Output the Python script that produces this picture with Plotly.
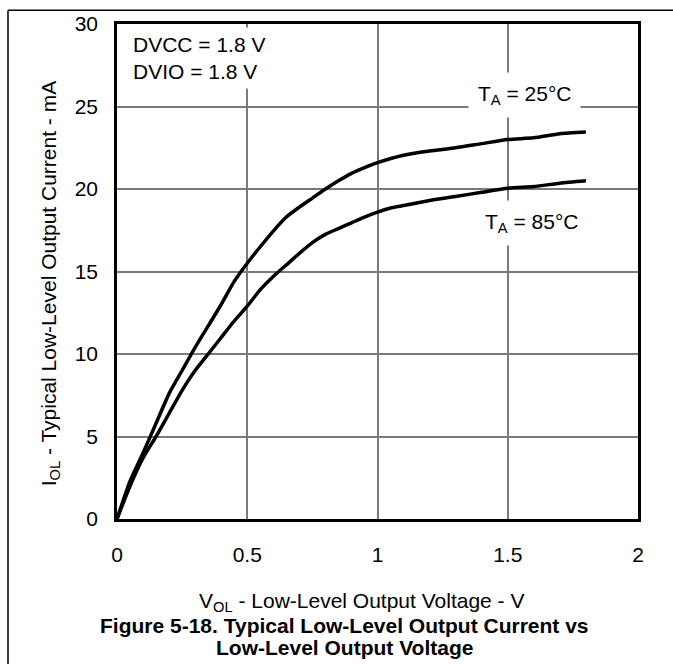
import plotly.graph_objects as go

# Data
v_25 = [0, 0.05, 0.10, 0.15, 0.20, 0.25, 0.30, 0.35, 0.40, 0.45, 0.50, 0.55, 0.60, 0.65,
        0.70, 0.75, 0.80, 0.85, 0.90, 0.95, 1.00, 1.10, 1.20, 1.30, 1.40, 1.50, 1.60, 1.70, 1.80]
i_25 = [0, 2.3, 4.0, 5.8, 7.6, 9.0, 10.4, 11.7, 13.0, 14.4, 15.5, 16.5, 17.45, 18.3,
        18.9, 19.45, 20.0, 20.5, 20.95, 21.3, 21.6, 22.05, 22.3, 22.5, 22.75, 23.0, 23.1, 23.35, 23.45]

v_85 = [0, 0.05, 0.10, 0.15, 0.20, 0.25, 0.30, 0.35, 0.40, 0.45, 0.50, 0.55, 0.60, 0.65,
        0.70, 0.75, 0.80, 0.85, 0.90, 0.95, 1.00, 1.05, 1.10, 1.20, 1.30, 1.40, 1.50, 1.60, 1.70, 1.80]
i_85 = [0, 2.0, 3.7, 5.0, 6.4, 7.8, 9.0, 10.0, 11.0, 12.0, 12.9, 13.9, 14.7, 15.4,
        16.1, 16.75, 17.25, 17.6, 17.95, 18.3, 18.6, 18.85, 19.0, 19.3, 19.55, 19.8, 20.05, 20.15, 20.35, 20.5]

x_ticks = [0, 0.5, 1, 1.5, 2]
x_tick_labels = ["0", "0.5", "1", "1.5", "2"]
y_ticks = [0, 5, 10, 15, 20, 25, 30]
y_tick_labels = ["0", "5", "10", "15", "20", "25", "30"]

FONT = "Liberation Sans, Arial, sans-serif"
FS = 21

fig = go.Figure()
fig.add_trace(go.Scatter(x=v_25, y=i_25, mode="lines",
                         line=dict(color="black", width=3.5, shape="spline", smoothing=0.6),
                         showlegend=False))
fig.add_trace(go.Scatter(x=v_85, y=i_85, mode="lines",
                         line=dict(color="black", width=3.5, shape="spline", smoothing=0.6),
                         showlegend=False))

W, H = 673, 666
L, R, T, B = 117, 35, 17, 147
pw, ph = W - L - R, H - T - B


def px_x(p):
    return (p - L) / pw


def px_y(p):
    return (H - B - p) / ph


fig.update_layout(
    width=W, height=H,
    margin=dict(l=L, r=R, t=T, b=B),
    paper_bgcolor="white", plot_bgcolor="white",
    font=dict(family=FONT, size=FS, color="black"),
    xaxis=dict(range=[0, 2], tickvals=x_ticks, ticktext=x_tick_labels,
               showgrid=True, gridcolor="#7a7a7a", gridwidth=1.5,
               zeroline=False, showline=True, linecolor="black", linewidth=2.5, mirror=True,
               ticks="", ticklabelstandoff=15, tickfont=dict(size=FS)),
    yaxis=dict(range=[0, 30], tickvals=y_ticks, ticktext=y_tick_labels,
               showgrid=True, gridcolor="#7a7a7a", gridwidth=1.5,
               zeroline=False, showline=True, linecolor="black", linewidth=2.5, mirror=True,
               ticks="", ticklabelstandoff=12, tickfont=dict(size=FS)),
)

# Page frame lines (top and left)
fig.add_shape(type="line", xref="paper", yref="paper",
              x0=px_x(8), x1=px_x(W), y0=px_y(3), y1=px_y(3),
              line=dict(color="black", width=1.5))
fig.add_shape(type="line", xref="paper", yref="paper",
              x0=px_x(8), x1=px_x(8), y0=px_y(3), y1=px_y(H),
              line=dict(color="black", width=1.5))

# In-plot annotations
fig.add_annotation(text="DVCC = 1.8 V<br>DVIO = 1.8 V", xref="paper", yref="paper",
                   x=px_x(127), y=px_y(20), xanchor="left", yanchor="top", align="left",
                   showarrow=False, bgcolor="white", borderpad=5,
                   font=dict(family=FONT, size=FS))
fig.add_annotation(text="T<sub>A</sub> = 25°C", x=1.565, y=25.7, xanchor="center", yanchor="middle",
                   showarrow=False, bgcolor="white", borderpad=9,
                   font=dict(family=FONT, size=FS))
fig.add_annotation(text="T<sub>A</sub> = 85°C", x=1.593, y=17.95, xanchor="center", yanchor="middle",
                   showarrow=False, bgcolor="white", borderpad=9,
                   font=dict(family=FONT, size=FS))

# Axis titles
fig.add_annotation(text="V<sub>OL</sub> - Low-Level Output Voltage - V", xref="paper", yref="paper",
                   x=px_x(361), y=px_y(603), xanchor="center", yanchor="middle",
                   showarrow=False, font=dict(family=FONT, size=FS))
fig.add_annotation(text="I<sub>OL</sub> - Typical Low-Level Output Current - mA", xref="paper", yref="paper",
                   x=px_x(50), y=px_y(280), xanchor="center", yanchor="middle", textangle=-90,
                   showarrow=False, font=dict(family=FONT, size=FS))

# Caption
fig.add_annotation(text="<b>Figure 5-18. Typical Low-Level Output Current vs</b>", xref="paper", yref="paper",
                   x=px_x(344), y=px_y(627), xanchor="center", yanchor="middle",
                   showarrow=False, font=dict(family=FONT, size=FS))
fig.add_annotation(text="<b>Low-Level Output Voltage</b>", xref="paper", yref="paper",
                   x=px_x(344), y=px_y(649), xanchor="center", yanchor="middle",
                   showarrow=False, font=dict(family=FONT, size=FS))

fig.write_html("out.html", post_script="document.body.style.margin='0';",
               config={"displayModeBar": False})
